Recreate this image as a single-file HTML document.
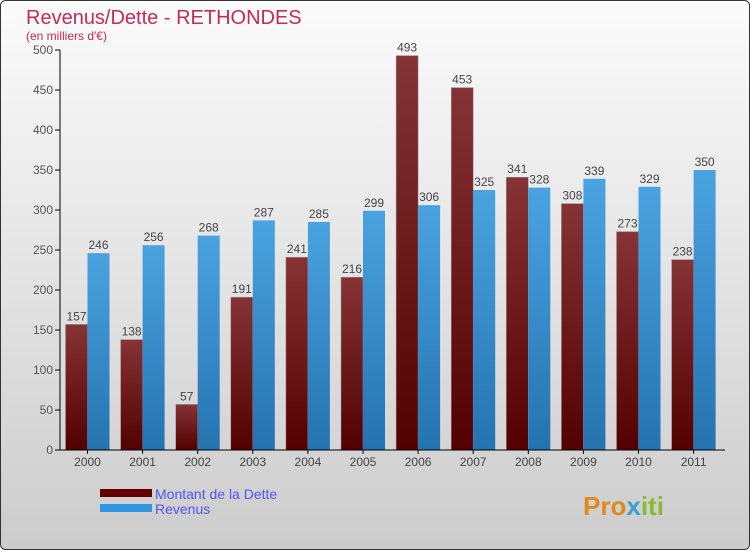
<!DOCTYPE html>
<html><head><meta charset="utf-8"><style>
body{margin:0;width:750px;height:550px;overflow:hidden;font-family:"Liberation Sans",sans-serif}
</style></head><body>
<svg id="c" width="750" height="550" xmlns="http://www.w3.org/2000/svg">
<defs>
<linearGradient id="bg" x1="0" y1="0" x2="0" y2="1"><stop offset="0" stop-color="#fbfbfb"/><stop offset="1" stop-color="#cccccc"/></linearGradient>
<linearGradient id="gd" x1="0" y1="0" x2="0" y2="1"><stop offset="0" stop-color="#853335"/><stop offset="1" stop-color="#530000"/></linearGradient>
<linearGradient id="gr" x1="0" y1="0" x2="0" y2="1"><stop offset="0" stop-color="#4aa3e0"/><stop offset="1" stop-color="#2473b0"/></linearGradient>
</defs>
<rect x="0.5" y="0.5" width="749" height="549" rx="5" fill="url(#bg)" stroke="#333"/>
<text x="26" y="24" font-size="20" fill="#c42a5e">Revenus/Dette - RETHONDES</text>
<text x="26" y="40" font-size="12" fill="#c42a5e">(en milliers d'€)</text>
<g id="plot"></g>
<rect x="100" y="489" width="52" height="8" fill="#650000"/>
<rect x="100" y="504" width="52" height="8" fill="#2f97e0"/>
<text x="155" y="499" font-size="14" fill="#5555ee">Montant de la Dette</text>
<text x="155" y="514" font-size="14" fill="#5555ee">Revenus</text>
<text x="583" y="515" font-size="26" font-weight="bold" fill="#e08a20">Pro<tspan fill="#3aa0d0">x</tspan><tspan fill="#88bb33">iti</tspan></text>
</svg>
<script>
const years=["2000","2001","2002","2003","2004","2005","2006","2007","2008","2009","2010","2011"];
const dette=[157,138,57,191,241,216,493,453,341,308,273,238];
const revenus=[246,256,268,287,285,299,306,325,328,339,329,350];
const yTicks=[0,50,100,150,200,250,300,350,400,450,500];
const NS="http://www.w3.org/2000/svg";
const g=document.getElementById('plot');
const x0=60,yBase=450,ppu=0.8,step=55.1,bw=22;
const y=v=>yBase-v*ppu;
function el(t,a,txt){const e=document.createElementNS(NS,t);for(const k in a)e.setAttribute(k,a[k]);if(txt!==undefined)e.textContent=txt;g.appendChild(e);return e;}
yTicks.forEach(t=>{
  const k=el('line',{x1:x0-5,x2:x0,y1:y(t),y2:y(t),stroke:'#000'});
  
  
  const tx=el('text',{x:x0-7,y:y(t)+4,'font-size':12,fill:'#555','text-anchor':'end'},t);
  
  
});
years.forEach((yr,i)=>{
  const cx=87.5+i*step;
  const d=el('rect',{x:cx-bw,y:y(dette[i]),width:bw,height:dette[i]*ppu,fill:'url(#gd)',stroke:'#999','stroke-width':0.5});
  
  
  const r=el('rect',{x:cx,y:y(revenus[i]),width:bw,height:revenus[i]*ppu,fill:'url(#gr)'});
  
  
  const dl=el('text',{x:cx-bw/2,y:y(dette[i])-4,'font-size':12,fill:'#444','text-anchor':'middle'},dette[i]);
  
  
  const rl=el('text',{x:cx+bw/2,y:y(revenus[i])-4,'font-size':12,fill:'#444','text-anchor':'middle'},revenus[i]);
  
  
  const xl=el('text',{x:cx,y:466,'font-size':12,fill:'#444','text-anchor':'middle'},yr);
  
  
  const xt=el('line',{x1:cx,x2:cx,y1:yBase,y2:yBase+4,stroke:'#000'});
  
  
});
const ya=el('line',{x1:x0,x2:x0,y1:y(500),y2:yBase,stroke:'#000'});


const xa=el('line',{x1:x0,x2:725,y1:yBase,y2:yBase,stroke:'#000'});


</script>
</body></html>
